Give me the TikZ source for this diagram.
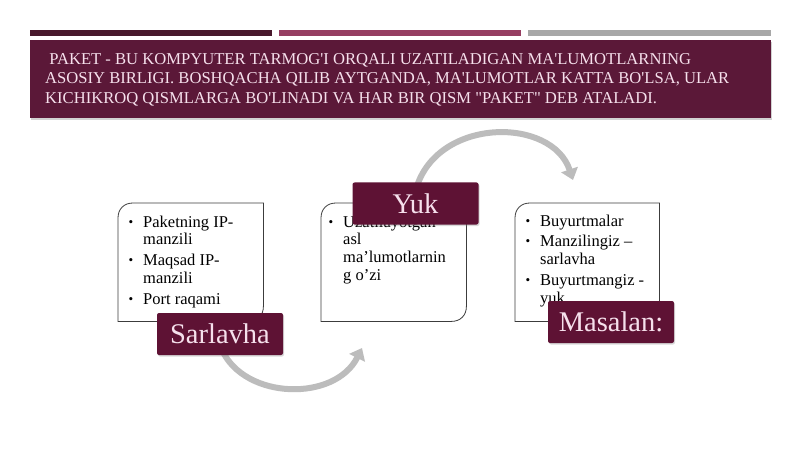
\documentclass[tikz,border=0pt]{standalone}
\usepackage{fontspec}
\setmainfont{Liberation Serif}
\usetikzlibrary{arrows.meta,shadows,calc}
\definecolor{titlebg}{RGB}{91,24,56}
\definecolor{labelbg}{RGB}{94,18,52}
\definecolor{barA}{RGB}{72,24,44}
\definecolor{barB}{RGB}{150,62,98}
\definecolor{barC}{RGB}{168,168,168}
\definecolor{lighttxt}{RGB}{246,224,236}
\definecolor{arrowgray}{RGB}{188,188,188}
\definecolor{boxline}{RGB}{60,60,60}
\newcommand\bul{\makebox[0pt][r]{\raisebox{1pt}{\scalebox{0.8}{\textbullet}}\hspace{10pt}}}
\tikzset{
  bar/.style={fill=#1, draw=none},
  titlebox/.style={fill=titlebg, draw=none, drop shadow={shadow xshift=1pt, shadow yshift=-2pt, opacity=0.35}},
  holder/.style={draw=none, minimum width=145pt, minimum height=118pt, inner sep=0pt, anchor=north west},
  edgeline/.style={draw=boxline, line width=0.8pt, fill=white},
  itemtext/.style={anchor=north west, inner sep=0pt, align=left, font=\fontsize{16.5}{17.8}\selectfont, text=black},
  label/.style={fill=labelbg, text=lighttxt, minimum width=126pt, minimum height=42pt, inner sep=0pt, rounded corners=2pt,
    font=\fontsize{28.5}{30}\selectfont, drop shadow={shadow xshift=1pt, shadow yshift=-1.5pt, opacity=0.3}},
  curvearrow/.style={draw=arrowgray, line width=6pt, -{Triangle[width=17pt,length=11pt]}},
}
\newcommand\diagbox[1]{%
  \path[edgeline] (#1.south west) -- ($(#1.north west)+(0,15)$) .. controls ($(#1.north west)+(0,6)$) and ($(#1.north west)+(6,0)$) .. ($(#1.north west)+(15,0)$)
    -- (#1.north east) -- ($(#1.south east)+(0,-15)$) .. controls ($(#1.south east)+(0,-6)$) and ($(#1.south east)+(-6,0)$) .. ($(#1.south east)+(-15,0)$) -- cycle;}
\begin{document}
\begin{tikzpicture}[x=1pt,y=-1pt]
\useasboundingbox[fill=white] (0,0) rectangle (800,449);
% top bars
\path[bar=barA] (30,30) rectangle (272,36);
\path[bar=barB] (279,30) rectangle (521,36);
\path[bar=barC] (528,30) rectangle (771,36);
% title box
\node[titlebox, minimum width=741pt, minimum height=78pt, inner sep=0pt, anchor=north west] (title) at (30,40) {};
\node[anchor=north west, inner sep=0pt, align=left, text=lighttxt, font=\fontsize{16.6}{19.2}\selectfont] (titletext) at (45,53.5)
 {\ PAKET - BU KOMPYUTER TARMOG\textquotesingle I ORQALI UZATILADIGAN MA\textquotesingle LUMOTLARNING\\
  ASOSIY BIRLIGI. BOSHQACHA QILIB AYTGANDA, MA\textquotesingle LUMOTLAR KATTA BO\textquotesingle LSA, ULAR\\
  KICHIKROQ QISMLARGA BO\textquotesingle LINADI VA HAR BIR QISM \textquotedbl PAKET\textquotedbl\ DEB ATALADI.};
% arrows
\coordinate (a1s) at (222,350);
\coordinate (a1e) at (362,348);
\draw[curvearrow] (a1s) .. controls (245,400) and (335,402) .. (a1e);
\coordinate (a2s) at (417,186);
\coordinate (a2e) at (573,180);
\draw[curvearrow] (a2s) .. controls (440,117) and (552,117) .. (a2e);
% boxes
\node[holder] (b1) at (118,203) {};
\node[holder] (b2) at (321,203) {};
\node[holder, minimum width=144pt] (b3) at (515,203) {};
\diagbox{b1}
\diagbox{b2}
\diagbox{b3}
% texts
\node[itemtext] (t1) at (143,215.5) {\bul Paketning IP-\\manzili\\[3pt]\bul Maqsad IP-\\manzili\\[3pt]\bul Port raqami};
\node[itemtext] (t2) at (343,215.5) {\bul Uzatilayotgan\\asl\\ma’lumotlarnin\\g o’zi};
\node[itemtext] (t3) at (540,214.5) {\bul Buyurtmalar\\[3pt]\bul Manzilingiz –\\sarlavha\\[3pt]\bul Buyurtmangiz -\\yuk};
% labels
\node[label] (l1) at (220,334) {Sarlavha};
\node[label] (l2) at (415.5,203.5) {Yuk};
\node[label] (l3) at (611,322) {Masalan:};
\end{tikzpicture}
\end{document}
